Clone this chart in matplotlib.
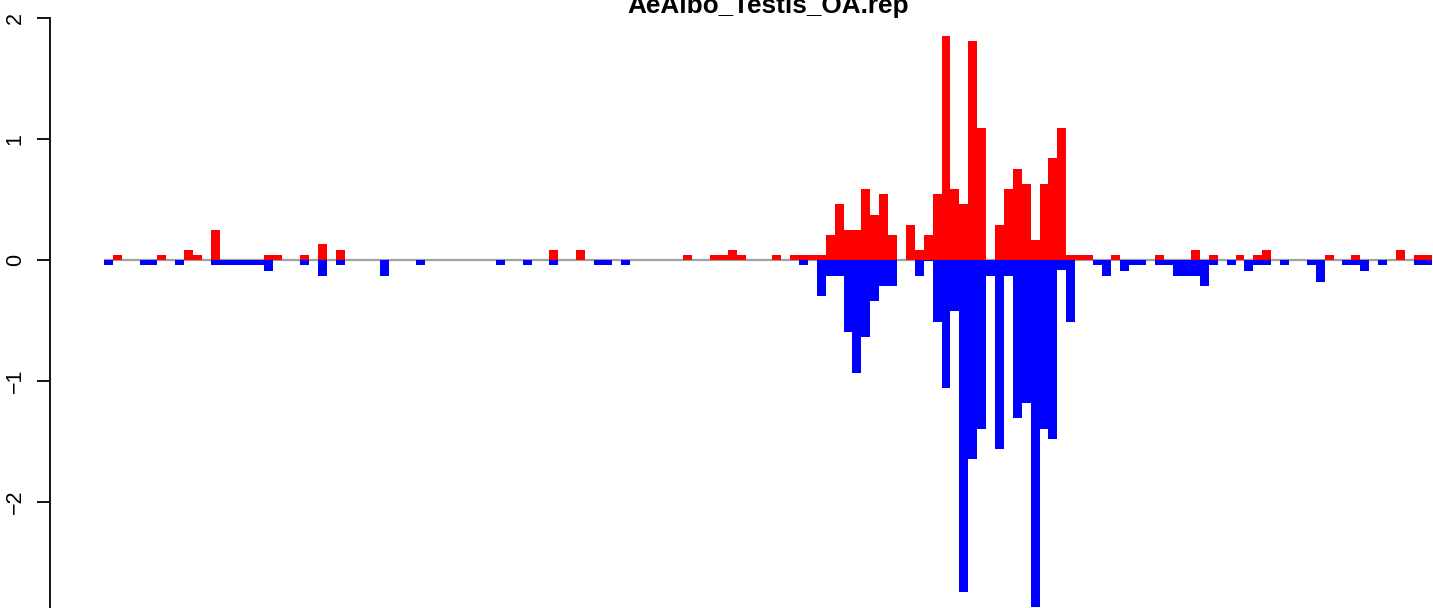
import matplotlib
matplotlib.use("Agg")
import matplotlib.pyplot as plt
import numpy as np

# bin values (149 bins)
red_vals = [
    0, 0.045, 0, 0, 0, 0, 0.045, 0, 0, 0.085,
    0.045, 0, 0.25, 0, 0, 0, 0, 0, 0.045, 0.045,
    0, 0, 0.045, 0, 0.13, 0, 0.085, 0, 0, 0,
    0, 0, 0, 0, 0, 0, 0, 0, 0, 0,
    0, 0, 0, 0, 0, 0, 0, 0, 0, 0,
    0.085, 0, 0, 0.085, 0, 0, 0, 0, 0, 0,
    0, 0, 0, 0, 0, 0.045, 0, 0, 0.045, 0.045,
    0.085, 0.045, 0, 0, 0, 0.045, 0, 0.045, 0.045, 0.045,
    0.045, 0.21, 0.466, 0.25, 0.25, 0.59, 0.375, 0.548, 0.21, 0,
    0.29, 0.085, 0.21, 0.548, 1.854, 0.59, 0.466, 1.813, 1.094, 0,
    0.29, 0.59, 0.755, 0.63, 0.168, 0.63, 0.846, 1.094, 0.045, 0.045,
    0.045, 0, 0, 0.045, 0, 0, 0, 0, 0.045, 0,
    0, 0, 0.085, 0, 0.045, 0, 0, 0.045, 0, 0.045,
    0.085, 0, 0, 0, 0, 0, 0, 0.045, 0, 0,
    0.045, 0, 0, 0, 0, 0.085, 0, 0.045, 0.045,
]
blue_vals = [
    -0.045, 0, 0, 0, -0.045, -0.045, 0, 0, -0.045, 0,
    0, 0, -0.045, -0.045, -0.045, -0.045, -0.045, -0.045, -0.088, 0,
    0, 0, -0.045, 0, -0.135, 0, -0.045, 0, 0, 0,
    0, -0.135, 0, 0, 0, -0.045, 0, 0, 0, 0,
    0, 0, 0, 0, -0.045, 0, 0, -0.045, 0, 0,
    -0.045, 0, 0, 0, 0, -0.045, -0.045, 0, -0.045, 0,
    0, 0, 0, 0, 0, 0, 0, 0, 0, 0,
    0, 0, 0, 0, 0, 0, 0, 0, -0.045, 0,
    -0.297, -0.132, -0.132, -0.595, -0.934, -0.636, -0.339, -0.215, -0.215, 0,
    0, -0.132, -0.01, -0.51, -1.055, -0.421, -2.741, -1.645, -1.397, -0.132,
    -1.562, -0.132, -1.306, -1.182, -2.87, -1.397, -1.48, -0.083, -0.51, 0,
    0, -0.045, -0.135, 0, -0.088, -0.045, -0.045, 0, -0.045, -0.045,
    -0.135, -0.135, -0.135, -0.215, -0.045, 0, -0.045, 0, -0.088, -0.045,
    -0.045, 0, -0.045, 0, 0, -0.045, -0.18, 0, 0, -0.045,
    -0.045, -0.088, 0, -0.045, 0, 0, 0, -0.045, -0.045,
]
y_ticks = [-2, -1, 0, 1, 2]
y_labels = ["\u22122", "\u22121", "0", "1", "2"]
title = "AeAlbo_Testis_OA.rep"

W, H = 1433, 608
fig = plt.figure(figsize=(W / 100, H / 100), dpi=100)
ax = fig.add_axes([50 / W, 0, 1 - 50 / W, 1])

n = len(red_vals)
x = np.arange(n)
ax.hlines(0, 0, n, color="#a0a0a0", linewidth=1.6, zorder=1)
ax.bar(x, red_vals, width=1.0, align="edge", color="#ff0000", linewidth=0, zorder=2)
ax.bar(x, blue_vals, width=1.0, align="edge", color="#0000ff", linewidth=0, zorder=2)

ax.set_xlim(-6.06, 149.16)
ax.set_ylim(-2.876, 2.149)

for s in ["top", "right", "bottom"]:
    ax.spines[s].set_visible(False)
ax.spines["left"].set_bounds(-3, 2)
ax.spines["left"].set_linewidth(1.3)
ax.set_xticks([])
ax.set_yticks(y_ticks)
ax.set_yticklabels(y_labels, rotation=90, va="center", ha="right",
                   fontfamily="Liberation Sans", fontsize=15.5)
ax.tick_params(axis="y", length=9.4, width=1.3, pad=8)

fig.text(768 / W, (H - 12.5) / H, title, ha="center", va="baseline",
         fontfamily="Liberation Sans", fontweight="bold", fontsize=18.8)

fig.savefig("out.png", dpi=100)
